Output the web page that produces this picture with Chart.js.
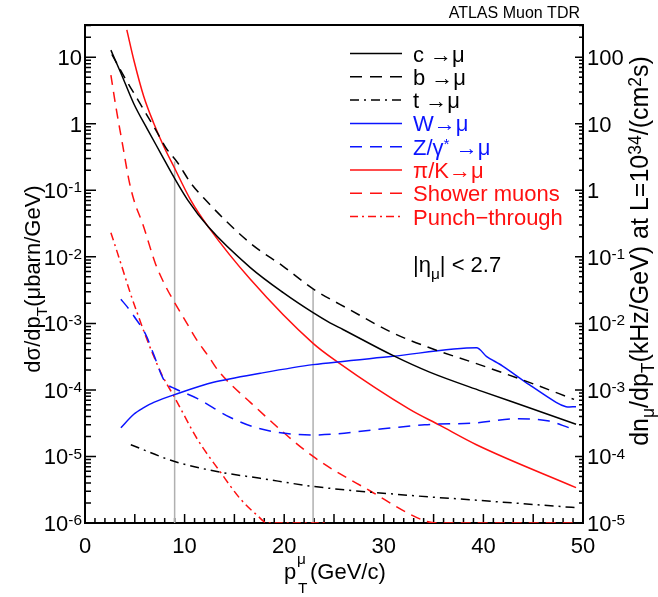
<!DOCTYPE html>
<html>
<head>
<meta charset="utf-8">
<script src="https://cdn.jsdelivr.net/npm/chart.js"></script>
<style>
  html, body { margin: 0; padding: 0; background: #fff; }
  #wrap { width: 658px; height: 597px; }
</style>
</head>
<body>
<div id="wrap"><canvas id="muonChart" width="658" height="597"></canvas></div>
<script>
// values: x = pT (GeV/c), y = dsigma/dpT (ubarn/GeV)
const cMuX = [2.6, 3.6, 4.9, 6.3, 7.6, 8.9, 10.3, 12.4, 16.6, 19.9, 22.9, 24.6, 25.9, 30.9, 34.6, 39.8, 44.6, 49.3];
const cMuY = [12.8, 5.8, 2.0, 0.81, 0.36, 0.16, 0.072, 0.028, 6.9e-3, 2.9e-3, 1.45e-3, 1.02e-3, 8.1e-4, 3.3e-4, 1.85e-4, 9.6e-5, 5.4e-5, 3.05e-5];

const bMuX = [2.7, 4.1, 4.9, 5.9, 7.1, 8.1, 9.3, 10.6, 11.9, 16.6, 19.9, 22.9, 26.6, 30.9, 34.6, 39.6, 44.6, 49.1];
const bMuY = [11, 4.6, 2.9, 1.62, 0.81, 0.44, 0.26, 0.13, 0.077, 0.016, 7.2e-3, 3.3e-3, 1.6e-3, 7.2e-4, 4.3e-4, 2.4e-4, 1.3e-4, 7.2e-5];

const tMuX = [4.6, 9, 13.6, 17.6, 22.9, 32.6, 39.3, 49.3];
const tMuY = [1.5e-5, 8.4e-6, 5.8e-6, 4.7e-6, 3.55e-6, 2.6e-6, 2.2e-6, 1.7e-6];

const wMuX = [3.6, 4.9, 5.9, 6.9, 9, 12.9, 17.6, 22.9, 30.9, 39.3, 40.3, 41.9, 44.6, 47.3, 48.3, 49.3];
const wMuY = [2.7e-5, 4.3e-5, 5.4e-5, 6.5e-5, 8.5e-5, 1.3e-4, 1.78e-4, 2.4e-4, 3.2e-4, 4.3e-4, 3.2e-4, 2.3e-4, 1.2e-4, 6.5e-5, 5.6e-5, 5.6e-5];

const zMuX = [3.6, 4.2, 4.9, 6.1, 6.9, 7.8, 8.3, 9, 11.3, 14.6, 17.6, 22.9, 29.9, 34.1, 39.3, 43.3, 46.6, 48.6];
const zMuY = [2.3e-3, 1.8e-3, 1.29e-3, 6.8e-4, 3.4e-4, 1.53e-4, 1.2e-4, 1.05e-4, 7.4e-5, 3.85e-5, 2.6e-5, 2.1e-5, 2.6e-5, 3.0e-5, 3.2e-5, 3.7e-5, 3.4e-5, 2.7e-5];

const piKX = [4.2, 4.9, 5.9, 6.9, 7.9, 8.9, 10.6, 12.4, 16.6, 22.9, 25.3, 32.6, 35.6, 39.3, 49.3];
const piKY = [25.7, 9.1, 2.57, 1.02, 0.46, 0.23, 0.072, 0.028, 4.6e-3, 5.0e-4, 2.66e-4, 5.1e-5, 2.95e-5, 1.5e-5, 3.4e-6];

const showerX = [2.6, 3.1, 3.8, 4.4, 4.9, 5.8, 7.1, 8.1, 9.1, 10.1, 11.3, 12.4, 13.4, 16.6, 22.9, 28.6, 34.1, 35.3, 49];
const showerY = [5.4, 1.8, 0.46, 0.145, 0.072, 0.031, 7.7e-3, 3.6e-3, 1.93e-3, 1.08e-3, 5.4e-4, 3.2e-4, 1.93e-4, 6.5e-5, 1.0e-5, 3.05e-6, 1.08e-6, 1e-6, 1e-6];

const punchX = [2.6, 3.1, 3.8, 4.6, 5.3, 6.1, 6.9, 7.8, 9, 11.3, 13.6, 15.6, 17.3, 18.3, 24.4];
const punchY = [0.023, 0.0136, 6.4e-3, 2.7e-3, 1.36e-3, 6.4e-4, 3.2e-4, 1.6e-4, 7.7e-5, 1.8e-5, 5.8e-6, 2.3e-6, 1.3e-6, 1e-6, 1e-6];

// grey vertical markers (x position and height)
const cutX = [9, 22.9];
const cutTop = [0.27, 3.3e-3];

// axis ranges and tick labels
const xMin = 0, xMax = 50;
const yMin = 1e-6, yMax = 30.5;
const y2Min = 1e-5, y2Max = 305;
const xTickLabels = [0, 10, 20, 30, 40, 50];
const leftTickExp = [1, 0, -1, -2, -3, -4, -5, -6];
const rightTickExp = [2, 1, 0, -1, -2, -3, -4, -5];

// legend entries: text parts ([text, mode]) per curve
const legendLabels = [
  [["c \u2192\u03bc", "n"]],
  [["b \u2192\u03bc", "n"]],
  [["t \u2192\u03bc", "n"]],
  [["W\u2192\u03bc", "n"]],
  [["Z/\u03b3", "n"], ["*", "sup"], [" \u2192\u03bc", "n"]],
  [["\u03c0/K\u2192\u03bc", "n"]],
  [["Shower muons", "n"]],
  [["Punch\u2212through", "n"]],
];

const BLACK = "#000000";
const BLUE = "#0a14ff";
const RED = "#ff1010";

const mk = (xs, ys) => xs.map((x, i) => ({ x: x, y: ys[i] }));

function curve(xs, ys, color, dash, extra) {
  return Object.assign({
    data: mk(xs, ys),
    borderColor: color,
    borderWidth: 1.5,
    borderDash: dash,
    pointRadius: 0,
    fill: false,
    cubicInterpolationMode: "monotone",
    order: 1,
  }, extra || {});
}

const curveSets = [
  curve(cMuX, cMuY, BLACK, []),
  curve(bMuX, bMuY, BLACK, [10, 7]),
  curve(tMuX, tMuY, BLACK, [9, 5, 2, 5]),
  curve(wMuX, wMuY, BLUE, [], { cubicInterpolationMode: "default", tension: 0.3 }),
  curve(zMuX, zMuY, BLUE, [12, 8]),
  curve(piKX, piKY, RED, []),
  curve(showerX, showerY, RED, [10, 7]),
  curve(punchX, punchY, RED, [8, 4, 2, 4]),
];

const cutSets = cutX.map((x, i) => ({
  data: [{ x: x, y: yMin }, { x: x, y: cutTop[i] }],
  borderColor: "#b0b0b0",
  borderWidth: 1.5,
  pointRadius: 0,
  tension: 0,
  fill: false,
  order: 10,
}));

const fontOf = (size) => `${size}px "Liberation Sans", Arial, Helvetica, sans-serif`;

function partsWidth(ctx, parts, size) {
  let w = 0;
  for (const [text, mode] of parts) {
    ctx.font = fontOf(mode === "n" ? size : size * 0.7);
    w += ctx.measureText(text).width;
  }
  return w;
}

function drawParts(ctx, parts, x, y, size, align, subDrop) {
  const w = partsWidth(ctx, parts, size);
  let cx = align === "right" ? x - w : align === "center" ? x - w / 2 : x;
  ctx.textAlign = "left";
  ctx.textBaseline = "alphabetic";
  for (const [text, mode] of parts) {
    ctx.font = fontOf(mode === "n" ? size : size * 0.7);
    let dy = 0;
    if (mode === "sup") dy = -size * 0.27;
    if (mode === "sub") dy = size * (subDrop || 0.3);
    ctx.fillText(text, cx, y + dy);
    cx += ctx.measureText(text).width;
  }
  return w;
}

function expLabel(e) {
  if (e === 0) return [["1", "n"]];
  if (e === 1) return [["10", "n"]];
  if (e === 2) return [["100", "n"]];
  return [["10", "n"], ["-" + Math.abs(e), "sup"]];
}

// frame and inward ticks, drawn under the curves
const framePlugin = {
  id: "frame",
  beforeDatasetsDraw(chart) {
    const { ctx, chartArea: a, scales } = chart;
    const x = scales.x, y = scales.y, y2 = scales.y2;
    ctx.save();
    ctx.strokeStyle = "#000";
    ctx.lineWidth = 1.5;
    ctx.beginPath();
    for (let v = xMin; v <= xMax; v++) {
      const px = x.getPixelForValue(v);
      const len = v % 5 === 0 ? 9 : 5;
      ctx.moveTo(px, a.bottom);
      ctx.lineTo(px, a.bottom - len);
    }
    for (let e = -6; e <= 1; e++) {
      for (let m = 1; m <= 9; m++) {
        const v = m * Math.pow(10, e);
        if (v > yMax) break;
        const py = y.getPixelForValue(v);
        ctx.moveTo(a.left, py);
        ctx.lineTo(a.left + (m === 1 ? 11 : 6), py);
      }
    }
    for (let e = -5; e <= 2; e++) {
      for (let m = 1; m <= 9; m++) {
        const v = m * Math.pow(10, e);
        if (v > y2Max) break;
        const py = y2.getPixelForValue(v);
        ctx.moveTo(a.right, py);
        ctx.lineTo(a.right - (m === 1 ? 8 : 4), py);
      }
    }
    ctx.stroke();
    ctx.lineWidth = 2;
    ctx.strokeRect(a.left, a.top, a.right - a.left, a.bottom - a.top);
    ctx.restore();
  },
};

// tick labels, titles, legend
const textPlugin = {
  id: "texts",
  afterDraw(chart) {
    const { ctx, scales } = chart;
    const x = scales.x, y = scales.y, y2 = scales.y2;
    const fs = 22;
    ctx.save();
    ctx.fillStyle = "#000";

    xTickLabels.forEach((v) => {
      drawParts(ctx, [[String(v), "n"]], x.getPixelForValue(v), 553, fs, "center");
    });
    leftTickExp.forEach((e) => {
      drawParts(ctx, expLabel(e), 82, y.getPixelForValue(Math.pow(10, e)) + 8, fs, "right");
    });
    rightTickExp.forEach((e) => {
      drawParts(ctx, expLabel(e), 587, y2.getPixelForValue(Math.pow(10, e)) + 8, fs, "left");
    });

    // x title p_T^mu (GeV/c)
    ctx.font = fontOf(fs);
    ctx.textAlign = "left";
    ctx.fillText("p", 284, 579);
    ctx.font = fontOf(fs * 0.7);
    ctx.fillText("\u03bc", 297, 564);
    ctx.fillText("T", 298, 593);
    ctx.font = fontOf(fs);
    ctx.fillText("(GeV/c)", 310, 579);

    // left title
    ctx.save();
    ctx.translate(40, 279);
    ctx.rotate(-Math.PI / 2);
    drawParts(ctx, [["d\u03c3/dp", "n"], ["T", "sub"], ["(\u03bcbarn/GeV)", "n"]], 0, 0, fs, "center");
    ctx.restore();

    // right title
    ctx.save();
    ctx.translate(648, 251);
    ctx.rotate(-Math.PI / 2);
    drawParts(ctx, [["dn", "n"], ["\u03bc", "sub"], ["/dp", "n"], ["T", "sub"],
      ["(kHz/GeV) at L=10", "n"], ["34", "sup"], ["/(cm", "n"], ["2", "sup"], ["s)", "n"]],
      0, 0, 25, "center", 0.24);
    ctx.restore();

    // header
    ctx.font = fontOf(16);
    ctx.textAlign = "right";
    ctx.fillText("ATLAS Muon TDR", 580, 18);

    // legend
    const sets = chart.data.datasets;
    legendLabels.forEach((parts, i) => {
      const ds = sets[i];
      const cy = 53.5 + i * 23.3;
      ctx.strokeStyle = ds.borderColor;
      ctx.lineWidth = 1.5;
      ctx.setLineDash(ds.borderDash && ds.borderDash.length ? (ds.borderDash.length === 2 ? [12, 8] : ds.borderDash) : []);
      ctx.beginPath();
      ctx.moveTo(350, cy);
      ctx.lineTo(402, cy);
      ctx.stroke();
      ctx.setLineDash([]);
      ctx.fillStyle = ds.borderColor;
      drawParts(ctx, parts, 413, cy + 8, fs, "left");
    });

    ctx.fillStyle = "#000";
    drawParts(ctx, [["|\u03b7", "n"], ["\u03bc", "sub"], ["| < 2.7", "n"]], 413, 272, fs, "left");
    ctx.restore();
  },
};

new Chart(document.getElementById("muonChart"), {
  type: "line",
  data: { datasets: curveSets.concat(cutSets) },
  options: {
    responsive: false,
    animation: false,
    events: [],
    layout: { padding: { left: 85, right: 75, top: 25, bottom: 74 } },
    plugins: { legend: { display: false }, tooltip: { enabled: false } },
    scales: {
      x: { type: "linear", min: xMin, max: xMax, display: false },
      y: { type: "logarithmic", min: yMin, max: yMax, display: false },
      y2: { type: "logarithmic", position: "right", min: y2Min, max: y2Max, display: false },
    },
  },
  plugins: [framePlugin, textPlugin],
});
</script>
</body>
</html>
